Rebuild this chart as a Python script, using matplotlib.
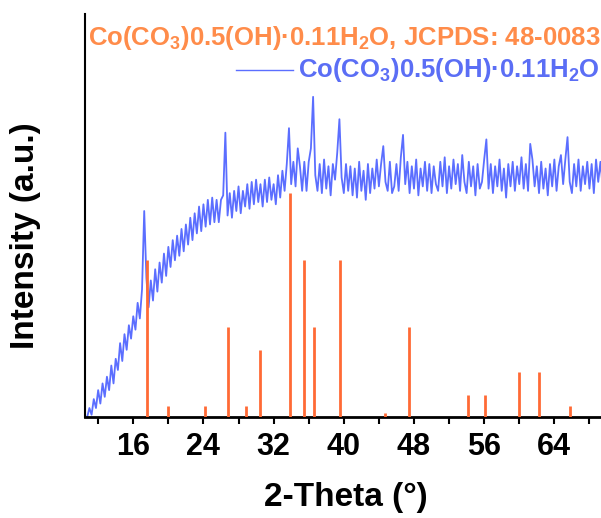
import numpy as np
import matplotlib
matplotlib.use('Agg')
import matplotlib.pyplot as plt

plt.rcParams['font.family'] = ['Liberation Sans', 'DejaVu Sans']
plt.rcParams['font.weight'] = 'bold'
plt.rcParams['mathtext.fontset'] = 'custom'
plt.rcParams['mathtext.rm'] = 'Liberation Sans:bold'
plt.rcParams['mathtext.it'] = 'Liberation Sans:bold'
plt.rcParams['mathtext.bf'] = 'Liberation Sans:bold'

# measured XRD pattern, 0.25 deg steps from 10.75 to 70.0
two_theta = np.arange(10.75, 70.01, 0.25)
intensity = np.array([
    0, 4, 1, 8, 4, 12, 6, 15, 9, 18, 12, 23, 15, 26, 21, 33, 25, 37, 30, 41,
    35, 45, 39, 51, 44, 57, 92, 62, 49, 61, 52, 66, 56, 69, 60, 73, 63, 76, 67, 79,
    70, 81, 72, 84, 74, 86, 77, 89, 79, 91, 82, 94, 83, 95, 85, 97, 86, 98, 87, 97,
    87, 97, 99, 127, 90, 100, 89, 101, 92, 103, 91, 101, 94, 104, 93, 105, 95, 106, 96, 104,
    94, 106, 96, 107, 97, 104, 95, 108, 98, 110, 101, 113, 129, 104, 114, 103, 120, 112, 101, 114,
    101, 114, 120, 143, 108, 101, 113, 100, 115, 102, 112, 99, 113, 106, 118, 133, 107, 100, 113, 101,
    112, 99, 111, 98, 114, 101, 110, 97, 113, 100, 111, 102, 115, 103, 113, 121, 105, 101, 114, 100,
    103, 113, 101, 116, 126, 104, 114, 100, 112, 102, 115, 99, 111, 103, 114, 101, 113, 100, 112, 104,
    101, 114, 103, 116, 100, 112, 102, 115, 104, 113, 101, 117, 105, 100, 114, 103, 112, 99, 113, 102,
    105, 115, 124, 102, 113, 100, 112, 103, 115, 101, 111, 98, 113, 103, 114, 101, 112, 104, 116, 102,
    113, 101, 122, 115, 103, 112, 100, 114, 102, 111, 99, 113, 103, 115, 101, 112, 117, 104, 115, 125,
    105, 100, 113, 103, 115, 101, 112, 104, 114, 102, 113, 100, 115, 105, 114, 103, 116, 106,
], dtype=float)

# JCPDS 48-0083 reference lines (relative intensity)
ref_pos = [17.55, 20.0, 24.2, 26.8, 28.8, 30.45, 33.9, 35.5, 36.6, 39.6,
           44.7, 47.4, 54.2, 56.1, 60.0, 62.3, 65.8]
ref_int = [70, 5, 5, 40, 5, 30, 100, 70, 40, 70,
           2, 40, 10, 10, 20, 20, 5]

formula = 'Co(CO$_3$)0.5(OH)·0.11H$_2$O'

fig = plt.figure(figsize=(6.01, 5.18), dpi=100)
ax = fig.add_axes([85 / 601, 101 / 518, 522 / 601, 403 / 518])

ax.vlines(ref_pos, 0, ref_int, color='#ff6a35', linewidth=2.0, zorder=3)
ax.plot(two_theta, intensity, color='#5b6eff', linewidth=1.3, zorder=2)

ax.set_xlim(10.5, 70)
ax.set_ylim(0, 180)
ax.set_xticks([16, 24, 32, 40, 48, 56, 64])
ax.set_xticks([12, 20, 28, 36, 44, 52, 60, 68], minor=True)
ax.tick_params(axis='x', which='both', direction='out', length=5, width=1.5,
               labelsize=22, pad=6)
ax.set_yticks([])
for lbl in ax.get_xticklabels():
    lbl.set_fontweight('bold')
ax.spines['top'].set_visible(False)
ax.spines['right'].set_visible(False)
ax.spines['left'].set_linewidth(1.5)
ax.spines['bottom'].set_linewidth(2.0)

ax.set_xlabel('2-Theta (°)', fontsize=24, fontweight='bold', labelpad=14)
ax.set_ylabel('Intensity (a.u.)', fontsize=24, fontweight='bold')
ax.yaxis.set_label_coords(-0.085, 0.45)

fig.text(600 / 601, 1 - 38 / 518, formula + ', JCPDS: 48-0083', color='#ff8c4a',
         fontsize=18.5, fontweight='bold', ha='right', va='center')
fig.text(600 / 601, 1 - 70 / 518, formula, color='#5b6ef5',
         fontsize=18.5, fontweight='bold', ha='right', va='center')
fig.add_artist(plt.Line2D([236 / 601, 293 / 601], [1 - 70 / 518, 1 - 70 / 518],
                          color='#5b6eff', linewidth=1.0))

fig.savefig('out.png', dpi=100)
